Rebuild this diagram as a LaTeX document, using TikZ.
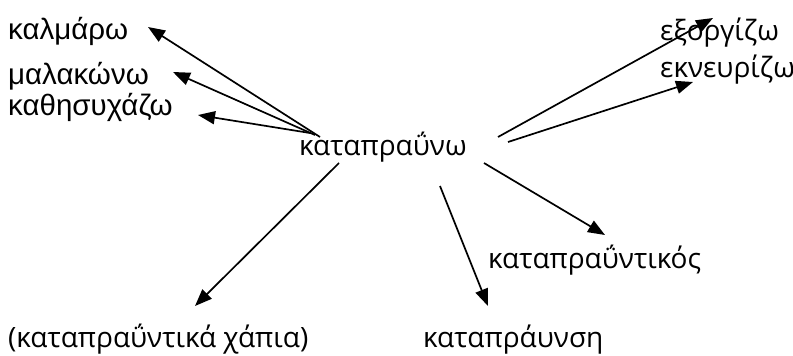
\documentclass[tikz,border=0pt]{standalone}
\usepackage{fontspec}
\setmainfont{Open Sans}
\newfontfamily\arialgr{Liberation Sans}
\usetikzlibrary{arrows.meta}
\tikzset{
  word/.style={inner sep=0pt, anchor=base west, font=\fontsize{28}{30}\selectfont},
  wordA/.style={inner sep=0pt, anchor=base west, font=\arialgr\fontsize{29.5}{31}\selectfont},
  link/.style={line width=1.7pt, -{Triangle[length=17pt,width=13pt]}}
}
\begin{document}
\begin{tikzpicture}[x=1pt,y=-1pt]
\useasboundingbox (0,0) rectangle (793,356);
\node[wordA] (kalmaro) at (8,39) {καλμάρω};
\node[wordA] (malakono) at (8,84) {μαλακώνω};
\node[wordA] (kathisyxazo) at (8,115) {καθησυχάζω};
\node[word] (center) at (299,155) {καταπραΰνω};
\node[word] (exorgizo) at (660,40) {εξοργίζω};
\node[word] (ekneyrizo) at (660,77) {εκνευρίζω};
\node[word] (adj) at (488,268) {καταπραΰντικός};
\node[word] (pills) at (8,347) {(καταπραΰντικά χάπια)};
\node[word] (noun) at (423,347) {καταπράυνση};
% connector end points
\coordinate (s1) at (320,137);
\coordinate (t1) at (148,27);
\coordinate (s2) at (315,135);
\coordinate (t2) at (173,72);
\coordinate (s3) at (310,133);
\coordinate (t3) at (198,115);
\coordinate (s4) at (498,137);
\coordinate (t4) at (713,18);
\coordinate (s5) at (508,142);
\coordinate (t5) at (693,82);
\coordinate (s6) at (339,163);
\coordinate (t6) at (195,306);
\coordinate (s7) at (440,186);
\coordinate (t7) at (488,306);
\coordinate (s8) at (484,163);
\coordinate (t8) at (605,235);
\draw[link] (s1) -- (t1);
\draw[link] (s2) -- (t2);
\draw[link] (s3) -- (t3);
\draw[link] (s4) -- (t4);
\draw[link] (s5) -- (t5);
\draw[link] (s6) -- (t6);
\draw[link] (s7) -- (t7);
\draw[link] (s8) -- (t8);
\end{tikzpicture}
\end{document}
